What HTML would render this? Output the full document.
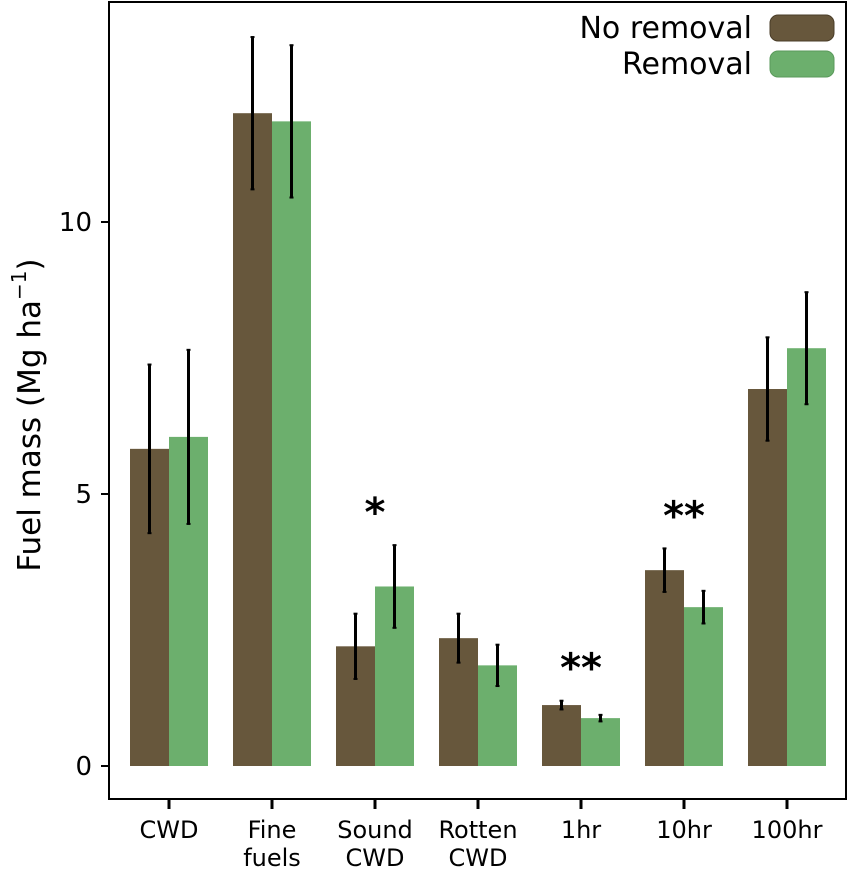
<!DOCTYPE html>
<html><head><meta charset="utf-8"><style>
body{margin:0;background:#fff;}
svg text{font-family:"DejaVu Sans","Liberation Sans",sans-serif;}
</style></head><body>
<svg id="c" width="850" height="870" viewBox="0 0 850 870">
<rect x="109" y="2" width="737" height="797" fill="none" stroke="#000" stroke-width="2"/>
<text transform="translate(40,415) rotate(-90)" text-anchor="middle" style="font-size:31px">Fuel mass (Mg ha<tspan dy="-14" style="font-size:20px">−1</tspan><tspan dy="14">)</tspan></text>
<g id="bars"></g>
<g>
<text x="752" y="38" text-anchor="end" style="font-size:30px">No removal</text>
<rect x="770" y="15" width="64" height="26" rx="8" fill="#67573c" stroke="#4a3d28"/>
<text x="752" y="74" text-anchor="end" style="font-size:30px">Removal</text>
<rect x="770" y="51" width="64" height="26" rx="8" fill="#6caf6d" stroke="#5a9a5b"/>
</g>
</svg>
<script>
const categories=[["CWD"],["Fine","fuels"],["Sound","CWD"],["Rotten","CWD"],["1hr"],["10hr"],["100hr"]];
const noRemoval=[5.83,12.0,2.2,2.35,1.12,3.6,6.93];
const noRemovalErr=[1.55,1.4,0.6,0.45,0.08,0.4,0.95];
const removal=[6.05,11.85,3.3,1.85,0.88,2.92,7.68];
const removalErr=[1.6,1.4,0.76,0.38,0.06,0.3,1.03];
const signif=["","","*","","**","**",""];
const yTicks=[0,5,10];
const NS="http://www.w3.org/2000/svg";
const g=document.getElementById('bars');
const y=v=>766-v*54.4;
const xc=i=>169+i*103;
function mk(t,a,p){const e=document.createElementNS(NS,t);for(const k in a)e.setAttribute(k,a[k]);(p||g).appendChild(e);return e;}
yTicks.forEach(t=>{
 const l=mk('line',{x1:101,x2:109,y1:y(t),y2:y(t),stroke:'#000','stroke-width':2});
 
 
 const tx=mk('text',{x:92,y:y(t)+9,'text-anchor':'end',style:'font-size:26px'});
 tx.textContent=t;
 
 
});
categories.forEach((c,i)=>{
 const cx=xc(i);
 const w=39;
 [[noRemoval,noRemovalErr,'#67573c',-w,'no-removal'],[removal,removalErr,'#6caf6d',0,'removal']].forEach(s=>{
  const v=s[0][i],e=s[1][i];
  const r=mk('rect',{x:cx+s[3],y:y(v),width:w,height:y(0)-y(v),fill:s[2]});
  
  
  const bx=cx+s[3]+w/2;
  const el=mk('line',{x1:bx,x2:bx,y1:y(v+e),y2:y(v-e),stroke:'#000','stroke-width':3});
  
  
  mk('line',{x1:bx-2,x2:bx+2,y1:y(v+e),y2:y(v+e),stroke:'#000','stroke-width':2});
  mk('line',{x1:bx-2,x2:bx+2,y1:y(v-e),y2:y(v-e),stroke:'#000','stroke-width':2});
 });
 const tk=mk('line',{x1:cx,x2:cx,y1:800,y2:809,stroke:'#000','stroke-width':3});
 
 
 c.forEach((ln,j)=>{
  const t=mk('text',{x:cx,y:838+j*28,'text-anchor':'middle',style:'font-size:24px'});
  t.textContent=ln;
  
  
 });
 if(signif[i]){
  const top=Math.max(noRemoval[i]+noRemovalErr[i],removal[i]+removalErr[i]);
  const t=mk('text',{x:cx,y:y(top)-19,'text-anchor':'middle',style:'font-size:40px;font-weight:bold'});
  t.textContent=signif[i];
  
  
 }
});
</script>
</body></html>
